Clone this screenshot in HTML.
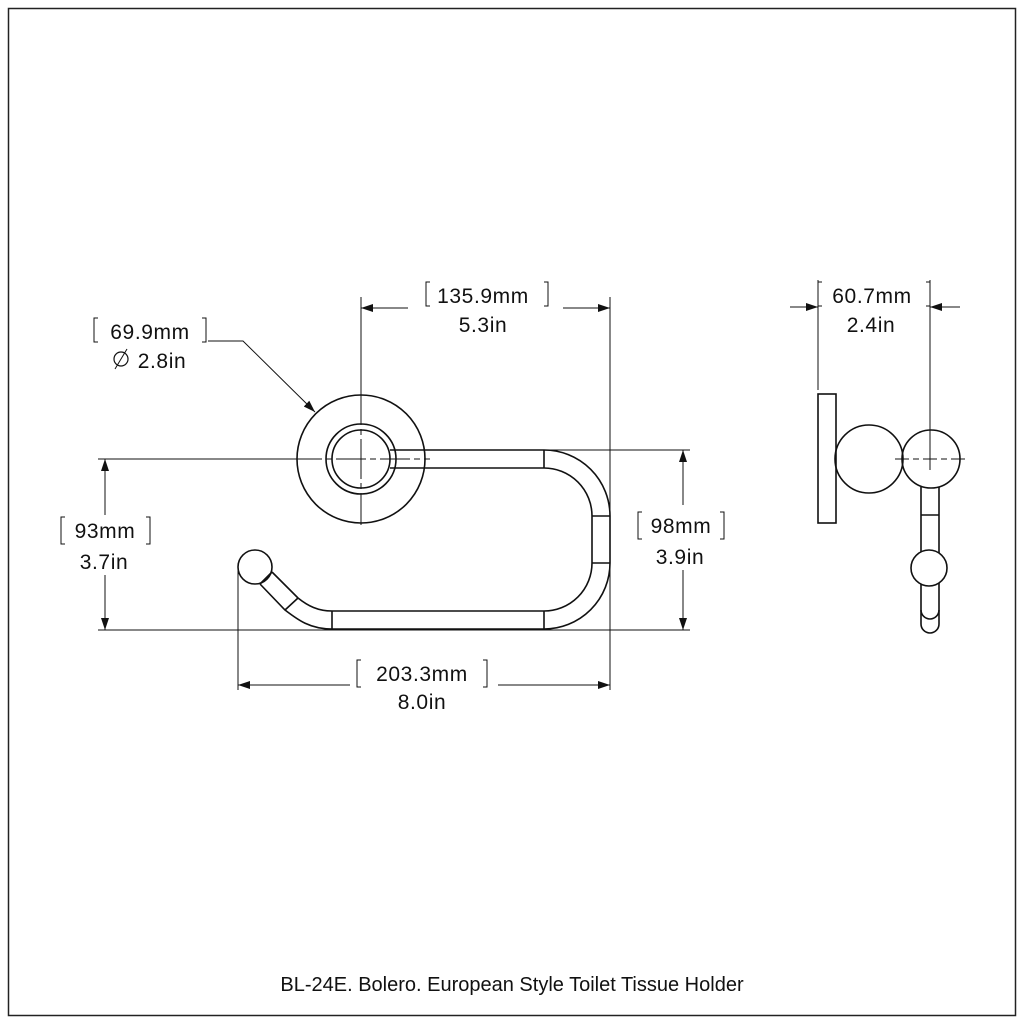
<!DOCTYPE html>
<html><head><style>
html,body{margin:0;padding:0;background:#fff;}
svg{display:block;}
text{font-family:"Liberation Sans","DejaVu Sans",sans-serif;fill:#111;}
</style></head><body>
<svg width="1024" height="1024" viewBox="0 0 1024 1024" xmlns="http://www.w3.org/2000/svg">
<rect x="8.5" y="8.5" width="1007" height="1007" fill="none" stroke="#222" stroke-width="1.5"/>
<defs>
<marker id="a" viewBox="0 0 12 8" refX="12" refY="4" markerWidth="12" markerHeight="8" markerUnits="userSpaceOnUse" orient="auto"><path d="M0,0 L12,4 L0,8 Z" fill="#111"/></marker>
</defs>
<g fill="none" stroke="#111" stroke-width="1">
<line x1="361" y1="297" x2="361" y2="385"/>
<line x1="610" y1="297" x2="610" y2="690"/>
<line x1="98" y1="459" x2="292" y2="459"/>
<line x1="98" y1="630" x2="690" y2="630"/>
<line x1="545" y1="450" x2="690" y2="450"/>
<line x1="238" y1="565" x2="238" y2="690"/>
<line x1="408" y1="308" x2="361" y2="308" marker-end="url(#a)"/>
<line x1="563" y1="308" x2="610" y2="308" marker-end="url(#a)"/>
<line x1="105" y1="515" x2="105" y2="459" marker-end="url(#a)"/>
<line x1="105" y1="575" x2="105" y2="630" marker-end="url(#a)"/>
<line x1="683" y1="505" x2="683" y2="450" marker-end="url(#a)"/>
<line x1="683" y1="570" x2="683" y2="630" marker-end="url(#a)"/>
<line x1="350" y1="685" x2="238" y2="685" marker-end="url(#a)"/>
<line x1="498" y1="685" x2="610" y2="685" marker-end="url(#a)"/>
<polyline points="208,341 243,341 315,412" marker-end="url(#a)"/>
<line x1="361" y1="385" x2="361" y2="525" stroke-dasharray="40,4,6,4"/>
<line x1="292" y1="459" x2="430" y2="459" stroke-dasharray="30,4,6,4"/>
<g stroke-width="1.6">
<circle cx="361" cy="459" r="64"/>
<circle cx="361" cy="459" r="35"/>
<circle cx="361" cy="459" r="29"/>
<path d="M390,450 L544,450 A66,66 0 0 1 610,516 L610,563 A66,66 0 0 1 544,629 L332,629 C310,629 298,620 285,610 L260,584"/>
<path d="M390,468 L544,468 A48,48 0 0 1 592,516 L592,563 A48,48 0 0 1 544,611 L332,611 C318,611 308,606 298,598 L272,572"/>
<line x1="544" y1="450" x2="544" y2="468"/>
<line x1="592" y1="516" x2="610" y2="516"/>
<line x1="592" y1="563" x2="610" y2="563"/>
<line x1="544" y1="611" x2="544" y2="629"/>
<line x1="332" y1="611" x2="332" y2="629"/>
<line x1="285" y1="610" x2="298" y2="598"/>
<line x1="260" y1="584" x2="272" y2="572"/>
<circle cx="255" cy="567" r="17"/>
</g>
<line x1="818" y1="280" x2="818" y2="390"/>
<line x1="930" y1="280" x2="930" y2="470"/>
<line x1="790" y1="307" x2="818" y2="307" marker-end="url(#a)"/>
<line x1="960" y1="307" x2="930" y2="307" marker-end="url(#a)"/>
<line x1="895" y1="459" x2="965" y2="459" stroke-dasharray="14,4,6,4"/>
<g stroke-width="1.6">
<rect x="818" y="394" width="18" height="129"/>
<circle cx="869" cy="459" r="34"/>
<circle cx="931" cy="459" r="29"/>
<path d="M921,487 L921,624 A9,9 0 0 0 939,624 L939,487"/>
<line x1="921" y1="515" x2="939" y2="515"/>
<path d="M921,610 A9,9 0 0 0 939,610"/>
<circle cx="929" cy="568" r="18" fill="#fff"/>
</g>
<g stroke-width="1">
<path d="M430,282 h-4 v24 h4"/><path d="M544,282 h4 v24 h-4"/>
<path d="M98,318 h-4 v24 h4"/><path d="M202,318 h4 v24 h-4"/>
<path d="M65,517 h-4 v27 h4"/><path d="M146,517 h4 v27 h-4"/>
<path d="M642,512 h-4 v27 h4"/><path d="M720,512 h4 v27 h-4"/>
<path d="M361,660 h-4 v27 h4"/><path d="M483,660 h4 v27 h-4"/>
<path d="M822,282 h-4 v24 h4"/><path d="M926,282 h4 v24 h-4"/>
</g>
<line x1="115" y1="369" x2="127" y2="349"/>
</g>
<g font-size="21" text-anchor="middle" letter-spacing="0.6">
<text x="483" y="303">135.9mm</text>
<text x="483" y="332">5.3in</text>
<text x="150" y="339">69.9mm</text>
<text x="162" y="368">2.8in</text>
<circle cx="121" cy="359" r="7" fill="none" stroke="#111" stroke-width="1.2"/>
<text x="105" y="538">93mm</text>
<text x="104" y="569">3.7in</text>
<text x="681" y="533">98mm</text>
<text x="680" y="564">3.9in</text>
<text x="422" y="681">203.3mm</text>
<text x="422" y="709">8.0in</text>
<text x="872" y="303">60.7mm</text>
<text x="871" y="332">2.4in</text>
</g>
<text x="512" y="991" font-size="20" text-anchor="middle">BL-24E. Bolero. European Style Toilet Tissue Holder</text>
</svg>
</body></html>
